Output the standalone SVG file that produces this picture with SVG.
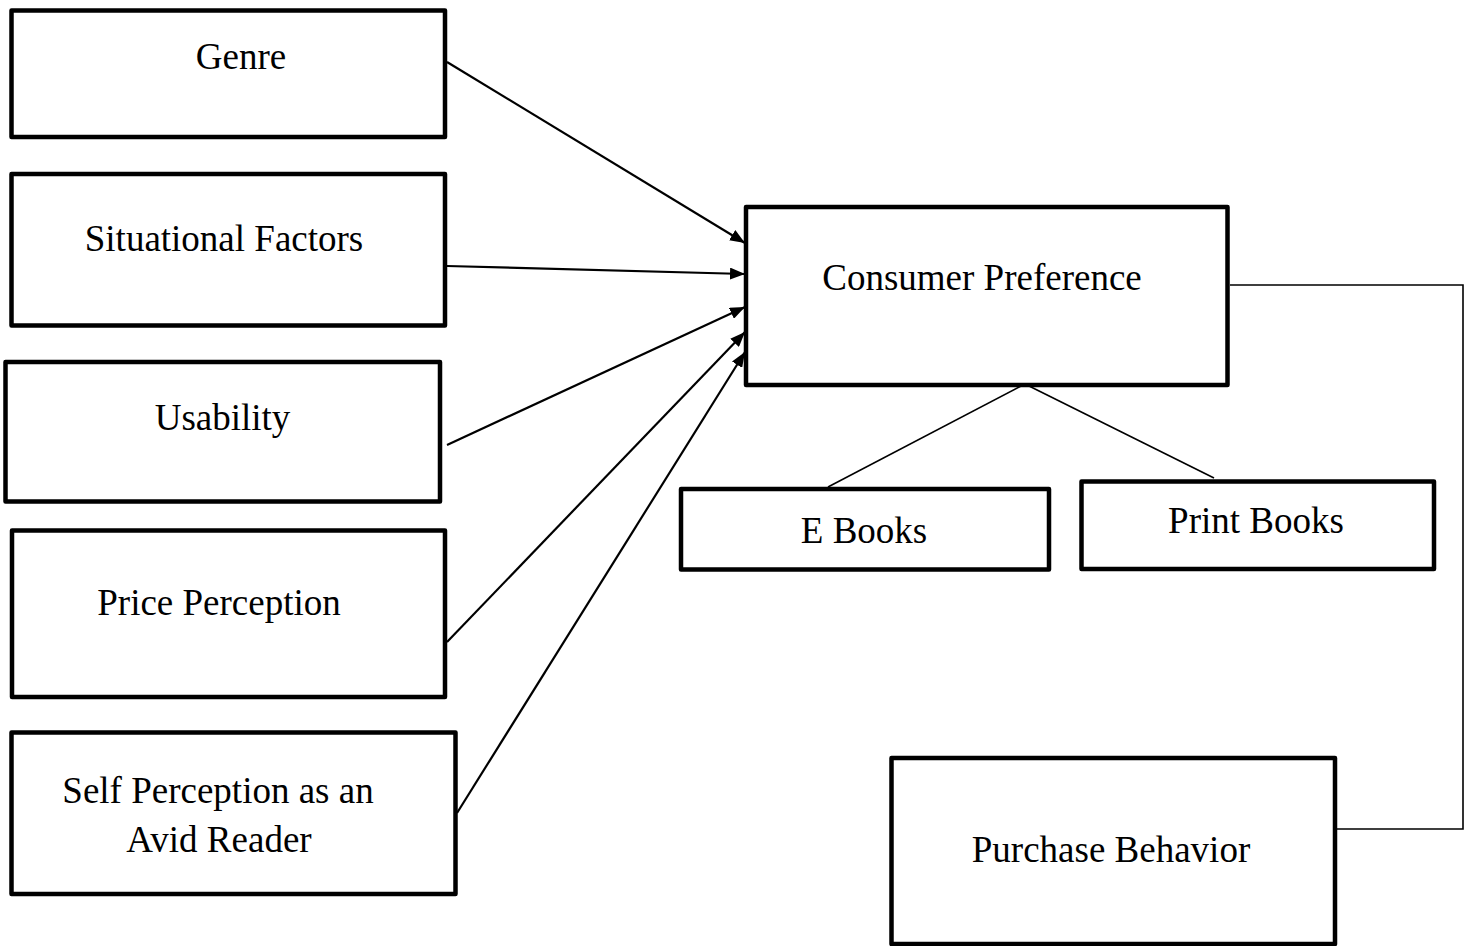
<svg xmlns="http://www.w3.org/2000/svg" width="1471" height="946" viewBox="0 0 1471 946">
  <style>
    .box { fill: #ffffff; stroke: #000000; stroke-width: 4.5; stroke-linejoin: round; }
    .lbl { font-family: "Liberation Serif", "Times New Roman", serif; font-size: 37px; fill: #000000; text-anchor: middle; }
    .arrow { stroke: #000000; stroke-width: 2.2; fill: none; marker-end: url(#ah); }
    .conn { stroke: #000000; stroke-width: 1.6; fill: none; }
  </style>
  <defs>
    <marker id="ah" viewBox="0 0 15 12" refX="15" refY="6" markerWidth="15" markerHeight="12" markerUnits="userSpaceOnUse" orient="auto">
      <path d="M0,0 L15,6 L0,12 z" fill="#000000"/>
    </marker>
  </defs>
  <rect width="1471" height="946" fill="#ffffff"/>

  <g id="connectors">
    <line class="arrow" x1="447" y1="62" x2="745" y2="243"/>
    <line class="arrow" x1="447" y1="266" x2="745" y2="274"/>
    <line class="arrow" x1="447" y1="445" x2="745" y2="307"/>
    <line class="arrow" x1="447" y1="642" x2="745" y2="332"/>
    <line class="arrow" x1="457" y1="813" x2="745" y2="352"/>
    <polyline class="conn" points="1230,285 1463,285 1463,829 1337,829"/>
    <line class="conn" x1="1025" y1="384" x2="828" y2="487"/>
    <line class="conn" x1="1025" y1="384" x2="1214" y2="478"/>
  </g>

  <g id="node-genre">
    <rect class="box" x="11.5" y="10.5" width="433.5" height="126.5"/>
    <text class="lbl" x="241" y="69">Genre</text>
  </g>
  <g id="node-situational">
    <rect class="box" x="11.5" y="174" width="433.5" height="151.5"/>
    <text class="lbl" x="224" y="251">Situational Factors</text>
  </g>
  <g id="node-usability">
    <rect class="box" x="5.5" y="362" width="434.5" height="139.5"/>
    <text class="lbl" x="222.5" y="430">Usability</text>
  </g>
  <g id="node-price">
    <rect class="box" x="12" y="530.5" width="433" height="166.5"/>
    <text class="lbl" x="219" y="615">Price Perception</text>
  </g>
  <g id="node-self">
    <rect class="box" x="11.5" y="732.5" width="444" height="161.5"/>
    <text class="lbl" x="218" y="803">Self Perception as an</text>
    <text class="lbl" x="219" y="852">Avid Reader</text>
  </g>
  <g id="node-consumer">
    <rect class="box" x="746" y="207" width="481.5" height="178"/>
    <text class="lbl" x="982" y="290">Consumer Preference</text>
  </g>
  <g id="node-ebooks">
    <rect class="box" x="681" y="489" width="368" height="80.5"/>
    <text class="lbl" x="864" y="543">E Books</text>
  </g>
  <g id="node-printbooks">
    <rect class="box" x="1081.5" y="481.5" width="352.5" height="87.5"/>
    <text class="lbl" x="1256" y="533">Print Books</text>
  </g>
  <g id="node-purchase">
    <rect class="box" x="891.5" y="758" width="443.5" height="186"/>
    <text class="lbl" x="1111" y="862">Purchase Behavior</text>
  </g>
</svg>
